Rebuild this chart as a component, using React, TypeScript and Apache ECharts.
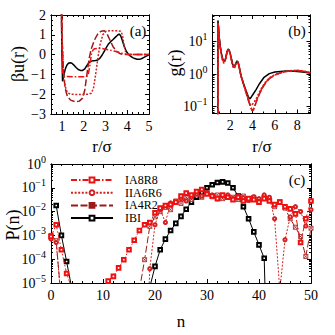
import React, { useEffect, useRef } from "react";
import * as echarts from "echarts";

const FONT = "Liberation Serif";
const NAMES = ["IA8R8", "IIA6R6", "IA4R2", "IBI"];
const COLORS = ["#ee1111", "#d42020", "#9a1a1a", "#000000"];
const DASHES: any[] = [[6, 2, 1.5, 2], [2, 1.6], [7, 2.5], "solid"];

// ---------- panel (a): beta u(r) ----------
const U_IA8R8 = [[0.95, 4], [1.0, 0.5], [1.04, -0.95], [1.08, -1.05], [1.2, -1.1], [1.5, -1.12], [1.8, -1.12], [2.1, -1.12], [2.2, -1.05], [2.28, -0.6], [2.35, 0.0], [2.42, 0.22], [2.5, 0.3], [2.7, 0.32], [2.9, 0.3], [3.0, 0.27], [3.2, 0.23], [3.4, 0.18], [3.6, 0.12], [3.8, 0.06], [3.95, 0.02], [4.1, 0.0], [5.0, 0.0]];
const U_IIA6R6 = [[0.97, 4], [1.02, 0.5], [1.08, -1.0], [1.15, -1.6], [1.25, -1.92], [1.4, -2.0], [1.8, -2.02], [2.2, -2.0], [2.35, -1.95], [2.45, -1.7], [2.55, -1.0], [2.65, -0.2], [2.75, 0.5], [2.88, 1.0], [3.0, 1.17], [3.2, 1.2], [3.5, 1.2], [3.7, 1.18], [3.78, 1.0], [3.85, 0.5], [3.92, 0.15], [4.0, 0.02], [4.2, 0.0], [5.0, 0.0]];
const U_IA4R2 = [[0.97, 4], [1.02, 0.5], [1.08, -1.0], [1.15, -1.7], [1.25, -2.1], [1.4, -2.3], [1.6, -2.38], [1.8, -2.35], [1.95, -2.2], [2.05, -1.8], [2.15, -1.0], [2.25, -0.2], [2.35, 0.3], [2.5, 0.75], [2.65, 1.05], [2.8, 1.18], [2.95, 1.2], [3.05, 1.1], [3.2, 0.75], [3.35, 0.4], [3.5, 0.18], [3.65, 0.06], [3.8, 0.01], [4.0, 0.0], [5.0, 0.0]];
const U_IBI = [[0.96, 4], [1.0, 0.2], [1.03, -1.35], [1.08, -1.1], [1.15, -0.75], [1.22, -0.55], [1.3, -0.44], [1.38, -0.41], [1.46, -0.44], [1.55, -0.53], [1.65, -0.65], [1.75, -0.75], [1.85, -0.8], [1.95, -0.8], [2.05, -0.72], [2.15, -0.55], [2.25, -0.4], [2.35, -0.33], [2.45, -0.31], [2.55, -0.3], [2.65, -0.27], [2.75, -0.18], [2.85, -0.02], [2.95, 0.18], [3.05, 0.38], [3.15, 0.55], [3.25, 0.66], [3.35, 0.76], [3.45, 0.87], [3.55, 0.98], [3.63, 1.04], [3.7, 0.95], [3.78, 0.7], [3.86, 0.42], [3.95, 0.18], [4.05, 0.02], [4.15, -0.08], [4.25, -0.15], [4.35, -0.2], [4.45, -0.23], [4.55, -0.24], [4.65, -0.21], [4.75, -0.15], [4.85, -0.09], [4.95, -0.04], [5.0, -0.02]];

// ---------- panel (b): g(r) ----------
const G_IA8R8 = [[0.87, 1e-3], [0.9, 38], [0.95, 24], [1.0, 13], [1.1, 6.8], [1.2, 4.2], [1.3, 3.0], [1.4, 2.5], [1.5, 2.45], [1.6, 3.2], [1.7, 4.8], [1.8, 5.8], [1.9, 5.4], [2.0, 4.1], [2.1, 2.9], [2.2, 2.0], [2.3, 1.7], [2.4, 1.75], [2.5, 2.15], [2.6, 2.5], [2.7, 2.3], [2.8, 1.65], [2.9, 1.1], [3.0, 0.8], [3.2, 0.48], [3.4, 0.29], [3.6, 0.17], [3.8, 0.105], [3.95, 0.078], [4.05, 0.08], [4.2, 0.11], [4.4, 0.17], [4.6, 0.25], [4.9, 0.4], [5.2, 0.57], [5.5, 0.74], [6.0, 0.95], [6.5, 1.1], [7.0, 1.2], [7.5, 1.28], [8.0, 1.3], [8.5, 1.25], [9.0, 1.15], [9.2, 1.1]];
const G_IIA6R6 = [[0.87, 1e-3], [0.9, 36], [0.95, 23], [1.0, 12], [1.1, 6.2], [1.2, 3.8], [1.3, 2.6], [1.4, 2.2], [1.5, 2.3], [1.6, 3.1], [1.7, 4.6], [1.8, 5.6], [1.9, 5.2], [2.0, 3.9], [2.1, 2.6], [2.2, 1.8], [2.3, 1.5], [2.4, 1.6], [2.5, 2.05], [2.6, 2.4], [2.7, 2.2], [2.8, 1.6], [2.9, 1.08], [3.0, 0.8], [3.2, 0.49], [3.4, 0.3], [3.6, 0.18], [3.75, 0.125], [3.88, 0.11], [4.0, 0.12], [4.2, 0.15], [4.4, 0.2], [4.6, 0.28], [4.9, 0.43], [5.2, 0.6], [5.5, 0.77], [6.0, 0.97], [6.5, 1.12], [7.0, 1.22], [7.5, 1.29], [8.0, 1.31], [8.5, 1.26], [9.0, 1.16], [9.2, 1.11]];
const G_IA4R2 = [[0.87, 1e-3], [0.9, 37], [0.95, 24], [1.0, 13], [1.1, 6.6], [1.2, 4.1], [1.3, 2.9], [1.4, 2.45], [1.5, 2.4], [1.6, 3.15], [1.7, 4.7], [1.8, 5.7], [1.9, 5.3], [2.0, 4.0], [2.1, 2.8], [2.2, 1.95], [2.3, 1.65], [2.4, 1.7], [2.5, 2.1], [2.6, 2.45], [2.7, 2.25], [2.8, 1.62], [2.9, 1.08], [3.0, 0.78], [3.2, 0.47], [3.4, 0.28], [3.6, 0.165], [3.8, 0.1], [3.97, 0.074], [4.08, 0.08], [4.2, 0.105], [4.4, 0.16], [4.6, 0.24], [4.9, 0.39], [5.2, 0.56], [5.5, 0.73], [6.0, 0.94], [6.5, 1.09], [7.0, 1.2], [7.5, 1.27], [8.0, 1.29], [8.5, 1.24], [9.0, 1.14], [9.2, 1.09]];
const G_IBI = [[0.86, 1e-3], [0.89, 45], [0.93, 30], [1.0, 14], [1.1, 7], [1.2, 4.3], [1.3, 3.1], [1.4, 2.6], [1.5, 2.5], [1.6, 3.3], [1.7, 4.9], [1.8, 5.9], [1.9, 5.5], [2.0, 4.2], [2.1, 3.0], [2.2, 2.1], [2.3, 1.75], [2.4, 1.8], [2.5, 2.2], [2.6, 2.55], [2.7, 2.35], [2.8, 1.7], [2.9, 1.15], [3.0, 0.82], [3.2, 0.5], [3.4, 0.32], [3.6, 0.21], [3.73, 0.175], [3.85, 0.19], [4.0, 0.23], [4.3, 0.33], [4.6, 0.5], [5.0, 0.78], [5.5, 1.04], [6.0, 1.17], [6.5, 1.22], [7.0, 1.25], [7.5, 1.25], [8.0, 1.22], [8.5, 1.17], [9.0, 1.1], [9.2, 1.08]];

// ---------- panel (c): P(n), n = 0..50 ----------
const N = Array.from({ length: 51 }, (_, i) => i);
const P_IA8R8 = [9e-4, 2.8e-3, 2.5e-4, 2.5e-5, 6e-6, null, null, null, null, null,
  5e-6, 1.2e-5, 1.9e-5, 4.3e-5, 9.5e-5, 2.5e-4, 6.3e-4, 1.6e-3, 2.8e-3, 3.5e-3,
  9e-3, 1.4e-2, 1.8e-2, 2e-2, 2.5e-2, 4.5e-2, 6e-2, 5e-2, 7e-2, 8.5e-2,
  5.5e-2, 4.5e-2, 3.5e-2, 5e-2, 4e-2, 3.2e-2, 4e-2, 2.8e-2, 3.5e-2, 3.2e-2,
  2.5e-2, 3.5e-2, 2.8e-2, 2e-2, 2.5e-2, 1.6e-2, 1.3e-2, 8e-3, 5e-4, 5e-3, 2.8e-2];
const P_IIA6R6 = [7e-4, 5e-4, 1.5e-6, null, null, null, null, null, null, null,
  null, null, null, null, null, null, null, null, 1e-10, 4e-5,
  2.8e-3, 1.2e-2, 3.5e-3, 2.3e-2, 2.5e-2, 3.5e-2, 2.8e-2, 4e-2, 5.5e-2, 4.5e-2,
  6.5e-2, 5e-2, 3.5e-2, 4.5e-2, 5e-2, 3.5e-2, 4.5e-2, 3.8e-2, 3e-2, 4.2e-2,
  3.5e-2, 5e-2, 4e-2, 5e-3, 5e-6, 6.5e-4, 6e-3, 1.6e-2, 1e-2, 2.5e-3, 1.2e-2];
const P_IA4R2 = [1e-3, 6e-4, 1.5e-6, null, null, null, null, null, null, null,
  null, null, null, null, null, null, null, 5e-6, 9.5e-5, 2.4e-3,
  6e-3, 1e-2, 1.5e-2, 1.2e-2, 2.8e-2, 2.2e-2, 4e-2, 3.2e-2, 5e-2, 4e-2,
  6e-2, 4.2e-2, 5e-2, 3.5e-2, 4.5e-2, 4e-2, 3.2e-2, 4.5e-2, 3e-2, 4e-2,
  2.5e-2, 3.8e-2, 3e-2, 1.6e-2, 2.6e-2, 1.4e-2, 5e-3, 2.2e-3, 9e-4, 1.3e-4, 2e-3];
const P_IBI = [null, 1.8e-2, 1e-3, 8e-5, 6e-6, null, null, null, null, null,
  null, null, null, null, null, null, null, null, null, 6.6e-6,
  5e-5, 2.5e-4, 7e-4, 1.6e-3, 3.2e-3, 6.3e-3, 1.26e-2, 2.5e-2, 4e-2, 6.3e-2,
  0.1, 0.135, 0.166, 0.178, 0.158, 0.1, 4.5e-2, 1.6e-2, 5e-3, 1.4e-3,
  4e-4, 1.1e-4, 1e-12, null, null, null, null, null, null, null, null];

// ---------- tick values ----------
const A_X_TICKS = [1, 2, 3, 4, 5];
const A_Y_TICKS = [-3, -2, -1, 0, 1, 2];
const B_X_TICKS = [2, 4, 6, 8];
const B_Y_TICKS = [0.1, 1, 10];
const C_X_TICKS = [0, 10, 20, 30, 40, 50];
const C_Y_TICKS = [1e-5, 1e-4, 1e-3, 1e-2, 1e-1, 1];

function stepTicks(min: number, max: number, step: number) {
  const out: number[] = [];
  for (let i = 0; min + i * step <= max + 1e-9; i++) out.push(+(min + i * step).toFixed(6));
  return out;
}
function logMinor(min: number, max: number) {
  const out: number[] = [];
  for (let e = -7; e <= 3; e++) for (let k = 2; k <= 9; k++) {
    const v = +(k * Math.pow(10, e)).toPrecision(3);
    if (v >= min && v <= max) out.push(v);
  }
  return out;
}

const minus = (s: string) => s.replace("-", "\u2212");
const linFmt = (v: number) => minus(String(v));
const logFmt = (v: number) => {
  const e = Math.round(Math.log10(v));
  return `{b|10}{s|${minus(String(e))}}`;
};

const LABEL = { fontFamily: FONT, fontSize: 14, color: "#000" };
const RICH = {
  b: { fontFamily: FONT, fontSize: 14, lineHeight: 20, color: "#000" },
  s: { fontFamily: FONT, fontSize: 10, lineHeight: 10, verticalAlign: "top", color: "#000" },
};

function makeAxis(g: number, position: string, type: string, min: number, max: number,
  ticks: number[], len: number, labels: number[] | null, fmt: any) {
  return {
    type, gridIndex: g, position, min, max, logBase: 10, silent: true,
    axisLine: { show: true, onZero: false, lineStyle: { color: "#000", width: 1 } },
    axisTick: { show: true, inside: true, length: len, customValues: ticks, lineStyle: { color: "#000", width: 1 } },
    axisLabel: labels
      ? { show: true, customValues: labels, formatter: fmt, margin: 5, ...LABEL, rich: RICH }
      : { show: false },
    splitLine: { show: false },
    minorTick: { show: false },
  };
}
function axisSet(g: number, dim: "x" | "y", type: string, min: number, max: number,
  majors: number[], minors: number[], fmt: any) {
  const p1 = dim === "x" ? "bottom" : "left";
  const p2 = dim === "x" ? "top" : "right";
  return [
    makeAxis(g, p1, type, min, max, majors, 4, majors, fmt),
    makeAxis(g, p2, type, min, max, majors, 4, null, null),
    makeAxis(g, p1, type, min, max, minors, 2, null, null),
    makeAxis(g, p2, type, min, max, minors, 2, null, null),
  ];
}

function lineSeries(name: string, i: number, g: number, data: any[], symbols: boolean) {
  const color = COLORS[i];
  const symbolList = ["emptyRect", "emptyCircle", "path://M0 0H10V10H0Z M0 0L10 10 M10 0L0 10", "emptyRect"];
  const sizes = [3.6, 3.2, 4, 3.6];
  return {
    type: "line", name, xAxisIndex: g * 4, yAxisIndex: g * 4, data,
    showSymbol: symbols, symbol: symbols ? symbolList[i] : "none", symbolSize: sizes[i],
    connectNulls: false, clip: true, z: 2 + (3 - i),
    lineStyle: { color, width: symbols ? 1 : 1.5, type: DASHES[i] },
    itemStyle: symbols
      ? { color: i === 2 ? "#ffffff" : color, borderColor: color, borderWidth: 0.8 }
      : { color },
    emphasis: { disabled: true },
  };
}

export default function App() {
  const ref = useRef<HTMLDivElement>(null);
  useEffect(() => {
    if (!ref.current) return;
    const chart = echarts.init(ref.current, null, { renderer: "svg" });
    const U = [U_IA8R8, U_IIA6R6, U_IA4R2, U_IBI];
    const G = [G_IA8R8, G_IIA6R6, G_IA4R2, G_IBI];
    const P = [P_IA8R8, P_IIA6R6, P_IA4R2, P_IBI].map((arr) => N.map((n, k) => [n, arr[k]]));
    const series: any[] = [];
    NAMES.forEach((nm, i) => series.push(lineSeries(nm, i, 2, P[i], true)));
    NAMES.forEach((nm, i) => series.push(lineSeries(nm + " u", i, 0, U[i], false)));
    NAMES.forEach((nm, i) => series.push(lineSeries(nm + " g", i, 1, G[i], false)));

    const text = (t: string, x: number, y: number, size: number, rot = 0) => ({
      type: "text", x, y, rotation: rot, silent: true,
      style: { text: t, fontFamily: FONT, fontSize: size, fill: "#000", textAlign: "center", textVerticalAlign: "middle" },
    });

    chart.setOption({
      animation: false,
      backgroundColor: "#fff",
      grid: [
        { left: 51, top: 15, width: 98, height: 99 },
        { left: 212.5, top: 15, width: 98, height: 98.5 },
        { left: 51, top: 164, width: 260, height: 119 },
      ],
      xAxis: [
        ...axisSet(0, "x", "value", 0.5, 5, A_X_TICKS, stepTicks(0.5, 5, 0.25), linFmt),
        ...axisSet(1, "x", "value", 0.4, 9.2, B_X_TICKS, stepTicks(1, 9, 1), linFmt),
        ...axisSet(2, "x", "value", 0, 50, C_X_TICKS, stepTicks(0, 50, 2), linFmt),
      ],
      yAxis: [
        ...axisSet(0, "y", "value", -3, 2, A_Y_TICKS, stepTicks(-3, 2, 0.25), linFmt),
        ...axisSet(1, "y", "log", 0.062, 66, B_Y_TICKS, logMinor(0.062, 66), logFmt),
        ...axisSet(2, "y", "log", 1e-5, 1, C_Y_TICKS, logMinor(1e-5, 1), logFmt),
      ],
      legend: {
        data: NAMES, orient: "vertical", left: 65, top: 169,
        itemWidth: 42, itemHeight: 6, itemGap: 0.7, selectedMode: false,
        textStyle: { fontFamily: FONT, fontSize: 12, lineHeight: 12, color: "#000", padding: [0, 0, 0, 7] },
      },
      graphic: [
        text("\u03b2u(r)", 18, 64, 18, Math.PI / 2),
        text("g(r)", 175, 63, 18, Math.PI / 2),
        text("P(n)", 13, 225, 18, Math.PI / 2),
        text("r/\u03c3", 102, 146, 17),
        text("r/\u03c3", 262, 146, 17),
        text("n", 181, 321, 17),
        text("(a)", 138, 31, 15),
        text("(b)", 297, 31, 15),
        text("(c)", 297, 180, 15),
      ],
      series,
    });
    return () => chart.dispose();
  }, []);
  return <div ref={ref} style={{ position: "fixed", left: 0, top: 0, width: 335, height: 335 }} />;
}
